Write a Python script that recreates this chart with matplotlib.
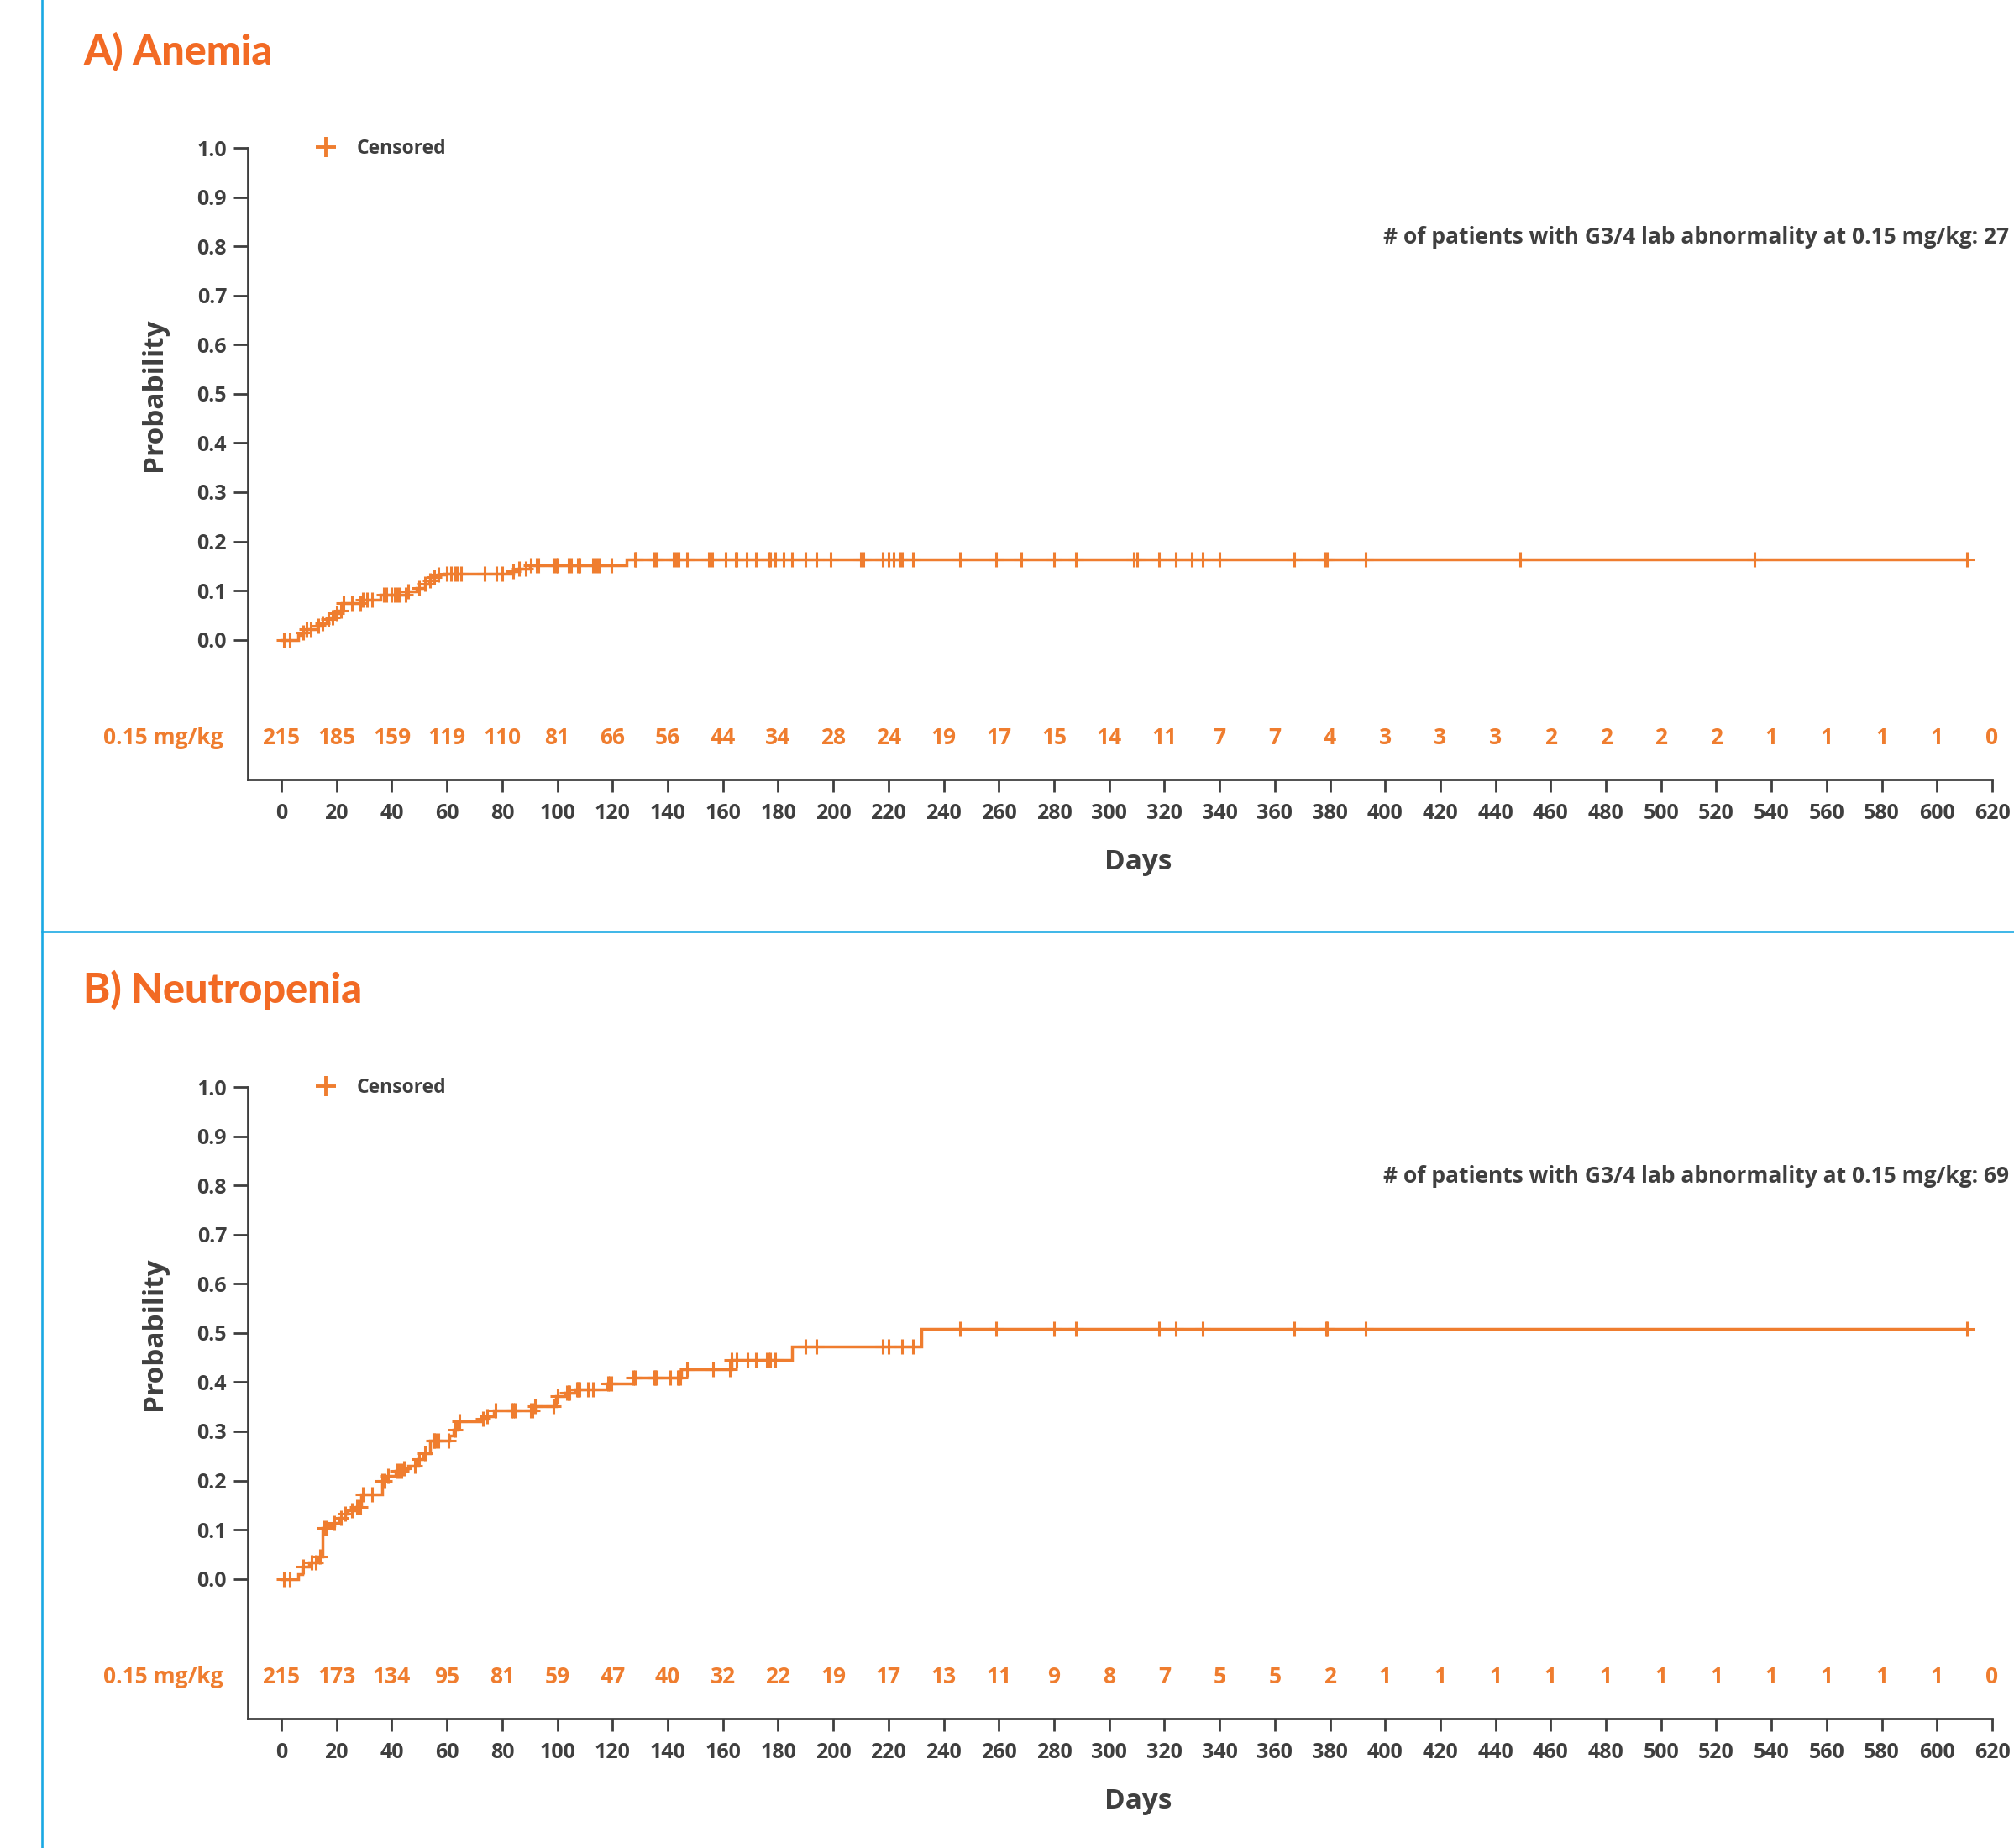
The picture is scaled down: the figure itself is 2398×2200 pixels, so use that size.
import numpy as np
import matplotlib
matplotlib.use("Agg")
import matplotlib.pyplot as plt
from matplotlib.lines import Line2D

# ---------------- data ----------------
days_ticks = list(range(0, 621, 20))

risk_A = [215, 185, 159, 119, 110, 81, 66, 56, 44, 34, 28, 24, 19, 17, 15, 14, 11, 7, 7, 4,
          3, 3, 3, 2, 2, 2, 2, 1, 1, 1, 1, 0]
risk_B = [215, 173, 134, 95, 81, 59, 47, 40, 32, 22, 19, 17, 13, 11, 9, 8, 7, 5, 5, 2,
          1, 1, 1, 1, 1, 1, 1, 1, 1, 1, 1, 0]

# cumulative incidence step curve (time, value after step)
event_t_A = [0, 6, 8, 9, 13, 14.5, 16.5, 18, 19.5, 21, 22, 29.5, 36, 45.5, 49, 52, 53.5, 55,
             56.5, 59, 84, 85.5, 90, 125]
event_p_A = [0, 0.010, 0.015, 0.022, 0.028, 0.033, 0.042, 0.046, 0.054, 0.060, 0.074, 0.082,
             0.091, 0.099, 0.105, 0.113, 0.121, 0.127, 0.133, 0.135, 0.139, 0.145, 0.151, 0.163]
censor_A = [1, 3, 8, 9, 10.5, 13.5, 15, 17, 18.5, 20, 21.5, 22.5, 25.5, 28.5, 29.5, 31, 33, 37,
            38, 40, 41, 42, 43, 45, 46, 50, 52, 54, 55.5, 57, 60, 61.5, 63, 64, 65, 73.5, 78,
            80, 84, 86, 88.5, 90.5, 92.5, 93, 98.5, 99.5, 100, 104, 105, 107.5, 108, 113, 114,
            115, 119.5, 128, 128.5, 135, 136, 142, 143, 144, 147, 155, 156, 161, 164.5, 165,
            168.5, 172, 176.5, 177, 179, 182, 185, 190, 194, 199, 210, 211, 218, 220, 222, 224,
            225, 229, 246, 259, 268, 280, 288, 309, 310, 318, 324, 330, 334, 340, 367, 378, 379,
            393, 449, 534, 611]

event_t_B = [0, 6, 7.5, 10, 13.5, 15, 17, 19, 21, 23, 24, 27, 29, 36.5, 38, 41.5, 44, 46, 49.5,
             51.5, 54, 61, 62.5, 64, 73, 74.5, 77, 92, 99.5, 103, 106.5, 118, 127.5, 145, 163,
             185, 232]
event_p_B = [0, 0.010, 0.025, 0.033, 0.045, 0.103, 0.108, 0.114, 0.124, 0.133, 0.139, 0.146,
             0.172, 0.200, 0.210, 0.219, 0.224, 0.230, 0.244, 0.255, 0.281, 0.292, 0.304, 0.321,
             0.326, 0.331, 0.342, 0.352, 0.372, 0.378, 0.386, 0.397, 0.409, 0.427, 0.445, 0.472,
             0.509]
censor_B = [1, 3, 8, 11, 12.5, 14, 15.5, 16.5, 19, 21.5, 23, 25.5, 27.5, 28.5, 29.5, 33, 36.5,
            37.5, 38.5, 42, 43, 43.5, 44.5, 48.5, 50, 52, 55, 55.5, 56, 57, 60.5, 63, 64.5, 73,
            74.5, 77.5, 83.5, 84, 84.5, 90.5, 91, 92, 98.5, 100, 103.5, 104, 104.5, 107, 107.5,
            108, 111, 113, 118.5, 119, 119.5, 127.5, 128, 135, 135.5, 136, 141, 143.5, 144,
            144.5, 147, 156.5, 162.5, 163, 165, 169, 172, 176, 176.5, 177, 179, 190, 194, 218,
            220, 225, 229, 246, 259, 280, 288, 318, 324, 334, 367, 378.5, 379, 393, 611]

titles = ["A) Anemia", "B) Neutropenia"]
n_events = [27, 69]
dose_label = "0.15 mg/kg"

# ---------------- style ----------------
ORANGE = "#EF7D2F"
TITLE_ORANGE = "#F26A24"
DARK = "#3F3F3F"
BLUE = "#1AA9E3"
FONT = ["Open Sans", "DejaVu Sans"]

plt.rcParams["font.family"] = FONT

W, H = 2398, 2200
fig = plt.figure(figsize=(W / 100, H / 100), dpi=100)

# decorative blue frame lines
fig.add_artist(Line2D([50 / W, 50 / W], [0, 1], transform=fig.transFigure, color=BLUE, lw=1.9))
fig.add_artist(Line2D([50 / W, 1], [1 - 1109 / H, 1 - 1109 / H], transform=fig.transFigure,
                      color=BLUE, lw=1.9))

panels = [
    (event_t_A, event_p_A, censor_A, risk_A),
    (event_t_B, event_p_B, censor_B, risk_B),
]

ax_left, ax_w, ax_h = 295 / W, 2077 / W, 752 / H
offsets = [0, 1118]

for i, (et, ep, ct, risk) in enumerate(panels):
    off = offsets[i]
    ax = fig.add_axes([ax_left, 1 - (928 + off) / H, ax_w, ax_h])
    ax.set_xlim(-12.2, 620)
    ax.set_ylim(-0.284, 1.0)

    et = np.asarray(et, float)
    ep = np.asarray(ep, float)
    ct = np.asarray(ct, float)
    xs = np.append(et, ct.max())
    ys = np.append(ep, ep[-1])
    ax.step(xs, ys, where="post", color=ORANGE, lw=2.5, solid_joinstyle="miter", zorder=3)
    cy = ep[np.searchsorted(et, ct, side="right") - 1]
    ax.plot(ct, cy, linestyle="none", marker="+", ms=12.5, mew=2.2, color=ORANGE, zorder=4)

    # spines & ticks
    for s in ["top", "right"]:
        ax.spines[s].set_visible(False)
    for s in ["left", "bottom"]:
        ax.spines[s].set_color(DARK)
        ax.spines[s].set_linewidth(2.0)
    ax.set_xticks(days_ticks)
    ax.set_xticklabels([str(d) for d in days_ticks])
    yt = np.round(np.arange(0, 1.01, 0.1), 1)
    ax.set_yticks(yt)
    ax.set_yticklabels([f"{v:.1f}" for v in yt])
    ax.tick_params(axis="x", length=11, width=2.0, color=DARK, pad=9,
                   labelsize=18, labelcolor=DARK)
    ax.tick_params(axis="y", length=12, width=2.0, color=DARK, pad=6,
                   labelsize=18, labelcolor=DARK)
    for lab in ax.get_xticklabels() + ax.get_yticklabels():
        lab.set_fontweight("bold")

    # number at risk row
    for d, n in zip(days_ticks, risk):
        ax.text(d, -0.2, str(n), ha="center", va="center", fontsize=19,
                fontweight="bold", color=ORANGE)
    ax.text(-0.014, -0.2, dose_label, transform=ax.get_yaxis_transform(), ha="right",
            va="center", fontsize=19, fontweight="bold", color=ORANGE)

    # axis labels
    ax.text((1355 - 295) / 2077, -98.5 / 752, "Days", transform=ax.transAxes, ha="center",
            va="center", fontsize=24, fontweight="bold", color=DARK)
    ax.text((183.5 - 295) / 2077, (928 - 469.5) / 752, "Probability", transform=ax.transAxes,
            ha="center", va="center", rotation=90, fontsize=24, fontweight="bold", color=DARK)

    # legend
    h = Line2D([], [], linestyle="none", marker="+", ms=17, mew=2.8, color=ORANGE)
    leg = ax.legend([h], ["Censored"], loc="center left", bbox_to_anchor=(0.0392, 0.999),
                    frameon=False, handlelength=1.0, handletextpad=1.1, borderpad=0,
                    borderaxespad=0, prop={"family": FONT, "weight": "bold", "size": 16.5})
    for t in leg.get_texts():
        t.set_color(DARK)

    # annotation
    fig.text(2392 / W, 1 - (283 + off) / H,
             f"# of patients with G3/4 lab abnormality at {dose_label}: {n_events[i]}",
             ha="right", va="center", fontsize=19, fontweight="bold", color=DARK)

    # title
    fig.text(99 / W, 1 - (77 + off - 1 * (i == 1)) / H, titles[i], ha="left", va="baseline",
             fontsize=35, fontweight="black", color=TITLE_ORANGE, family=["Lato", "DejaVu Sans"])

fig.savefig("out.png", dpi=100)
